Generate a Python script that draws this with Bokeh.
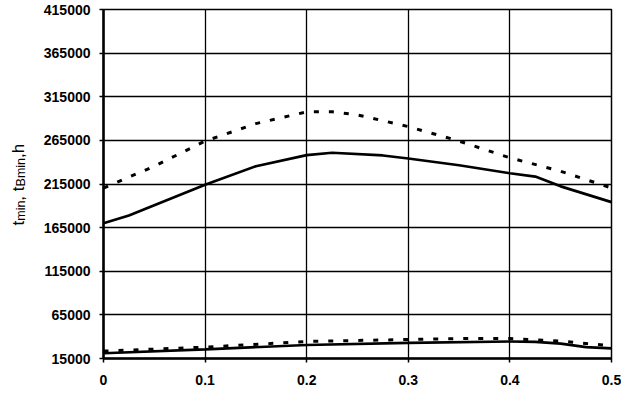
import math
from bokeh.plotting import figure
from bokeh.models import FixedTicker, Range1d, Label
from bokeh.layouts import row
from bokeh.embed import file_html
from bokeh.resources import INLINE

# Upper pair
x_up_dash = [0.0, 0.05, 0.1, 0.15, 0.2, 0.225, 0.25, 0.3, 0.35, 0.4, 0.45, 0.5]
y_up_dash = [210400, 235400, 264200, 284200, 297700, 297700, 294200, 280800, 264200, 245000, 229600, 210400]
x_up_solid = [0.0, 0.025, 0.1, 0.15, 0.2, 0.225, 0.275, 0.3, 0.35, 0.4, 0.425, 0.45, 0.5]
y_up_solid = [170000, 178900, 214200, 235400, 248100, 250800, 247700, 244200, 236500, 227300, 223500, 212300, 194200]

# Lower pair
x_lo_dash = [0.0, 0.1, 0.2, 0.3, 0.35, 0.4, 0.45, 0.5]
y_lo_dash = [23500, 28000, 34500, 36800, 37800, 37800, 35000, 29500]
x_lo_solid = [0.0, 0.1, 0.2, 0.3, 0.4, 0.425, 0.45, 0.475, 0.5]
y_lo_solid = [21000, 25500, 30500, 32800, 34500, 34000, 32000, 28000, 26500]

x_ticks = [0, 0.1, 0.2, 0.3, 0.4, 0.5]
x_tick_labels = ["0", "0.1", "0.2", "0.3", "0.4", "0.5"]
y_ticks = [15000, 65000, 115000, 165000, 215000, 265000, 315000, 365000, 415000]

# y-axis title pieces: t_min, t_Bmin,h
title_pieces = ["t", "min", ", t", "Bmin", ",h"]
title_is_sub = [False, True, False, True, False]

LEFT_W = 30
TOP_B = 9
BOTTOM_B = 50
H = 408

p = figure(width=621 - LEFT_W, height=H, output_backend="svg", toolbar_location=None,
           x_range=Range1d(0, 0.5), y_range=Range1d(15000, 415000),
           min_border_left=103 - LEFT_W, min_border_right=10,
           min_border_top=TOP_B, min_border_bottom=BOTTOM_B)
p.background_fill_color = "white"
p.border_fill_color = "white"
p.outline_line_color = "black"
p.outline_line_width = 1.5

for ax in (p.xaxis[0], p.yaxis[0]):
    ax.axis_line_width = 2.5
    ax.axis_line_color = "black"
    ax.major_tick_line_color = "black"
    ax.major_tick_line_width = 1.5
    ax.major_tick_in = 0
    ax.major_tick_out = 4
    ax.minor_tick_line_color = None
    ax.major_label_text_font = "Liberation Sans"
    ax.major_label_text_font_style = "bold"
    ax.major_label_text_font_size = "14px"
    ax.major_label_text_color = "black"

p.xaxis[0].ticker = FixedTicker(ticks=x_ticks)
p.xaxis[0].major_label_overrides = {t: l for t, l in zip(x_ticks, x_tick_labels)}
p.xaxis[0].major_label_standoff = 12
p.yaxis[0].ticker = FixedTicker(ticks=y_ticks)
p.yaxis[0].major_label_overrides = {t: str(t) for t in y_ticks}
p.yaxis[0].major_label_standoff = 9

p.xgrid.grid_line_color = "black"
p.xgrid.grid_line_width = 1.3
p.ygrid.grid_line_color = "black"
p.ygrid.grid_line_width = 1.3

p.line(x_up_dash, y_up_dash, line_color="black", line_width=3, line_dash="5 10")
p.line(x_up_solid, y_up_solid, line_color="black", line_width=2.7)
p.line(x_lo_dash, y_lo_dash, line_color="black", line_width=3, line_dash="5 10")
p.line(x_lo_solid, y_lo_solid, line_color="black", line_width=2.7)

# Narrow left strip holding the rotated title; its frame is aligned with the main frame,
# so map data y = canvas height - canvas y.
t = figure(width=LEFT_W, height=H, output_backend="svg", toolbar_location=None,
           x_range=Range1d(0, LEFT_W), y_range=Range1d(BOTTOM_B, H - TOP_B),
           x_axis_type=None, y_axis_type=None,
           min_border_left=0, min_border_right=0,
           min_border_top=TOP_B, min_border_bottom=BOTTOM_B)
t.grid.visible = False
t.outline_line_color = None
t.background_fill_color = "white"
t.border_fill_color = "white"

widths = {"t": 278, "m": 833, "i": 222, "n": 556, ",": 278, " ": 278, "B": 667, "h": 556}
pos_y = H - 225
for txt, sub in zip(title_pieces, title_is_sub):
    size = 12.5 if sub else 17
    t.add_layout(Label(x=17.5 + (3 if sub else 0), y=pos_y, text=txt, angle=math.pi / 2,
                       angle_units="rad", text_font="Liberation Sans",
                       text_font_size=f"{size}px", text_color="black",
                       text_baseline="alphabetic", text_align="left"))
    pos_y += sum(widths[ch] for ch in txt) * size / 1000.0

layout = row(t, p, spacing=0)
open("out.html", "w").write(file_html(layout, INLINE))
